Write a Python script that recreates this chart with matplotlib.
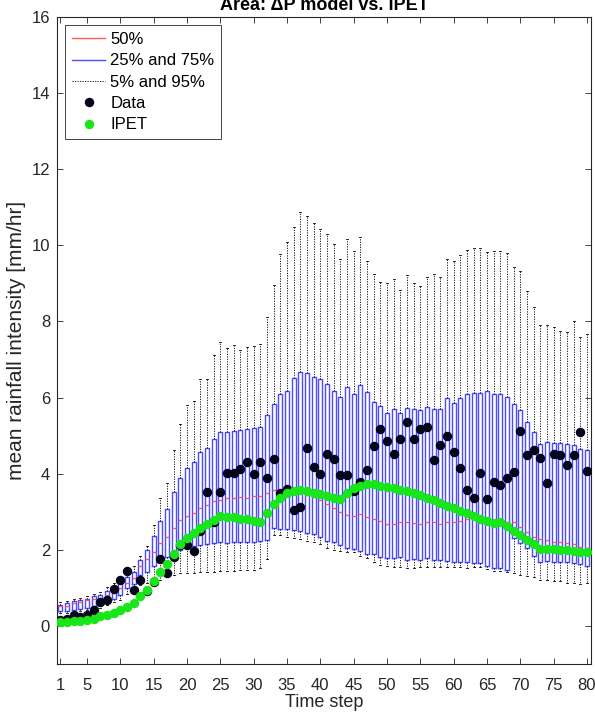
import numpy as np
import matplotlib
matplotlib.use("Agg")
import matplotlib.pyplot as plt
from matplotlib.lines import Line2D

plt.rcParams['font.family'] = ['Liberation Sans', 'DejaVu Sans']

steps = np.arange(1, 81)

# Ensemble percentiles per time step [mm/hr]
p50 = [0.52, 0.53, 0.59, 0.63, 0.67, 0.71, 0.74, 0.82, 0.91, 1.01,
       1.13, 1.26, 1.58, 1.75, 1.94, 2.17, 2.35, 2.58, 2.78, 2.88,
       2.98, 3.10, 3.17, 3.28, 3.32, 3.35, 3.35, 3.39, 3.36, 3.41,
       3.41, 3.50, 3.56, 3.56, 3.59, 3.58, 3.48, 3.43, 3.39, 3.32,
       3.20, 3.09, 3.00, 2.91, 2.90, 2.95, 2.87, 2.82, 2.76, 2.69,
       2.68, 2.72, 2.72, 2.71, 2.69, 2.72, 2.72, 2.68, 2.74, 2.74,
       2.75, 2.80, 2.82, 2.80, 2.82, 2.76, 2.78, 2.72, 2.72, 2.59,
       2.48, 2.35, 2.28, 2.26, 2.21, 2.21, 2.19, 2.15, 2.08, 2.04]

p75 = [0.56, 0.59, 0.65, 0.67, 0.72, 0.78, 0.82, 0.93, 1.02, 1.17,
       1.28, 1.43, 1.72, 2.00, 2.36, 2.75, 3.08, 3.51, 3.90, 4.16,
       4.32, 4.58, 4.68, 4.91, 5.09, 5.10, 5.13, 5.15, 5.17, 5.20,
       5.24, 5.55, 5.84, 6.09, 6.18, 6.52, 6.66, 6.64, 6.55, 6.48,
       6.35, 6.17, 6.01, 6.27, 6.10, 6.32, 6.14, 5.88, 5.77, 5.59,
       5.70, 5.59, 5.73, 5.69, 5.67, 5.74, 5.71, 5.70, 5.98, 5.87,
       6.00, 6.09, 6.13, 6.13, 6.16, 6.10, 6.09, 6.02, 5.83, 5.67,
       5.37, 5.09, 4.77, 4.84, 4.80, 4.80, 4.78, 4.76, 4.65, 4.63]

p25 = [0.39, 0.40, 0.43, 0.45, 0.47, 0.52, 0.54, 0.62, 0.71, 0.80,
       1.00, 1.10, 1.33, 1.43, 1.58, 1.69, 1.82, 1.93, 2.00, 2.06,
       2.10, 2.13, 2.15, 2.19, 2.20, 2.17, 2.20, 2.21, 2.21, 2.21,
       2.24, 2.26, 2.58, 2.56, 2.55, 2.52, 2.49, 2.43, 2.41, 2.35,
       2.24, 2.20, 2.13, 2.05, 2.01, 1.97, 1.90, 1.88, 1.80, 1.79,
       1.78, 1.80, 1.74, 1.76, 1.74, 1.78, 1.72, 1.72, 1.71, 1.69,
       1.69, 1.67, 1.65, 1.65, 1.58, 1.52, 1.51, 1.48, 2.30, 2.19,
       2.04, 1.84, 1.69, 1.71, 1.67, 1.67, 1.67, 1.65, 1.63, 1.58]

p95 = [0.62, 0.65, 0.70, 0.74, 0.79, 0.85, 0.90, 1.02, 1.12, 1.30,
       1.45, 1.58, 1.85, 2.10, 2.65, 3.35, 3.76, 4.63, 5.30, 5.81,
       5.91, 6.50, 6.50, 7.12, 7.46, 7.29, 7.39, 7.26, 7.32, 7.35,
       7.42, 8.13, 8.96, 9.76, 10.09, 10.48, 10.87, 10.77, 10.60, 10.42,
       10.31, 10.04, 9.65, 10.16, 9.85, 10.22, 9.60, 9.25, 9.05, 9.00,
       9.12, 8.83, 9.23, 9.00, 8.94, 9.18, 9.25, 9.17, 9.65, 9.58,
       9.74, 9.87, 9.93, 9.93, 9.83, 9.86, 9.85, 9.79, 9.44, 9.33,
       8.79, 8.37, 7.90, 7.90, 7.85, 7.76, 7.72, 8.00, 7.59, 7.66]

p5 = [0.33, 0.35, 0.37, 0.39, 0.41, 0.45, 0.48, 0.55, 0.62, 0.69,
      0.85, 0.95, 1.08, 1.14, 1.16, 1.21, 1.30, 1.34, 1.39, 1.39,
      1.39, 1.41, 1.41, 1.43, 1.45, 1.45, 1.45, 1.46, 1.46, 1.46,
      1.52, 1.75, 2.40, 2.38, 2.35, 2.30, 2.28, 2.22, 2.20, 2.15,
      2.05, 2.00, 1.98, 1.95, 1.95, 1.85, 1.78, 1.69, 1.60, 1.58,
      1.56, 1.56, 1.52, 1.52, 1.56, 1.56, 1.56, 1.56, 1.56, 1.56,
      1.55, 1.52, 1.56, 1.56, 1.50, 1.45, 1.44, 1.41, 1.39, 1.34,
      1.30, 1.28, 1.21, 1.21, 1.19, 1.17, 1.14, 1.12, 1.11, 1.12]

# Observed rainfall
data = [0.15, 0.19, 0.30, 0.24, 0.30, 0.41, 0.62, 0.67, 0.97, 1.21,
        1.45, 0.95, 1.21, 0.93, 1.15, 1.77, 1.39, 1.81, 2.12, 2.13,
        1.96, 2.50, 3.53, 2.74, 3.53, 4.02, 4.02, 4.12, 4.30, 4.00,
        4.32, 3.89, 4.38, 3.49, 3.59, 3.04, 3.12, 4.68, 4.17, 3.98,
        4.52, 4.39, 3.96, 3.97, 3.55, 3.78, 4.10, 4.72, 5.18, 4.85,
        4.52, 4.91, 5.37, 4.91, 5.17, 5.24, 4.37, 4.76, 5.00, 4.56,
        4.14, 3.58, 3.36, 4.03, 3.33, 3.77, 3.70, 3.90, 4.04, 5.13,
        4.50, 4.62, 4.41, 3.76, 4.52, 4.49, 4.24, 4.50, 5.10, 4.08]

# IPET rainfall
ipet = [0.10, 0.11, 0.12, 0.14, 0.16, 0.19, 0.26, 0.30, 0.34, 0.41,
        0.49, 0.59, 0.78, 0.95, 1.18, 1.41, 1.63, 1.88, 2.15, 2.32,
        2.45, 2.57, 2.69, 2.78, 2.88, 2.87, 2.86, 2.82, 2.80, 2.76,
        2.72, 2.97, 3.20, 3.36, 3.48, 3.54, 3.56, 3.55, 3.50, 3.46,
        3.42, 3.36, 3.33, 3.50, 3.62, 3.69, 3.72, 3.72, 3.69, 3.65,
        3.63, 3.58, 3.54, 3.49, 3.43, 3.36, 3.30, 3.23, 3.16, 3.09,
        3.02, 2.96, 2.89, 2.82, 2.76, 2.71, 2.74, 2.62, 2.50, 2.39,
        2.26, 2.15, 2.02, 2.02, 2.01, 2.00, 2.00, 1.98, 1.95, 1.93]

xtick_vals = [1, 5, 10, 15, 20, 25, 30, 35, 40, 45, 50, 55, 60, 65, 70, 75, 80]
ytick_vals = [0, 2, 4, 6, 8, 10, 12, 14, 16]

box_col = '#4b4bff'
med_col = '#ff5a5a'
axis_col = '#262626'
green = '#19e619'
dark = '#05051a'
whisk_ls = (0, (1.5, 1.5))

fig = plt.figure(figsize=(5.95, 7.13), dpi=100)
ax = fig.add_axes([57 / 595, 1 - 664 / 713, 534 / 595, 647 / 713])

stats = [dict(whislo=lo, q1=q1, med=md, q3=q3, whishi=hi)
         for lo, q1, md, q3, hi in zip(p5, p25, p50, p75, p95)]
ax.bxp(stats, positions=steps, widths=0.6, capwidths=0.3,
       showfliers=False, manage_ticks=False,
       boxprops=dict(color=box_col, linewidth=1.0),
       medianprops=dict(color=med_col, linewidth=1.0),
       whiskerprops=dict(color='black', linewidth=0.6, linestyle=whisk_ls),
       capprops=dict(color='black', linewidth=0.6))

ax.plot(steps, data, 'o', color=dark, markersize=5.8, zorder=4)
ax.plot(steps, ipet, 'o', color=green, markersize=5.8, zorder=5)

ax.set_xlim(0.5, 80.6)
ax.set_ylim(-1, 16)
ax.set_xticks(xtick_vals)
ax.set_yticks(ytick_vals)
ax.tick_params(direction='in', top=True, right=True, length=4, width=0.6,
               colors=axis_col, labelsize=12)
ax.tick_params(axis='x', pad=10)
ax.tick_params(axis='y', pad=5)
for sp in ax.spines.values():
    sp.set_color(axis_col)
    sp.set_linewidth(0.8)

ax.set_xlabel('Time step', fontsize=13, color=axis_col, labelpad=1)
ax.set_ylabel('mean rainfall intensity [mm/hr]', fontsize=15, color=axis_col,
              labelpad=4)
fig.text(0.545, 1 - 10 / 713, 'Area: \u0394P model vs. IPET', ha='center',
         va='baseline', fontsize=13, fontweight='bold', color='black')

handles = [
    Line2D([], [], color=med_col, lw=1.0),
    Line2D([], [], color=box_col, lw=1.0),
    Line2D([], [], color='black', lw=0.6, linestyle=whisk_ls),
    Line2D([], [], color=dark, marker='o', linestyle='none', markersize=5.8),
    Line2D([], [], color=green, marker='o', linestyle='none', markersize=5.8),
]
labels = ['50%', '25% and 75%', '5% and 95%', 'Data', 'IPET']
leg = ax.legend(handles, labels, loc='upper left', fontsize=12, frameon=True,
                fancybox=False, edgecolor=axis_col, framealpha=1,
                borderaxespad=0.5, borderpad=0.4, labelspacing=0.38,
                handlelength=2.0, handletextpad=0.3)
leg.get_frame().set_linewidth(0.6)
for t in leg.get_texts():
    t.set_color('black')

fig.savefig('out.png', dpi=100)
